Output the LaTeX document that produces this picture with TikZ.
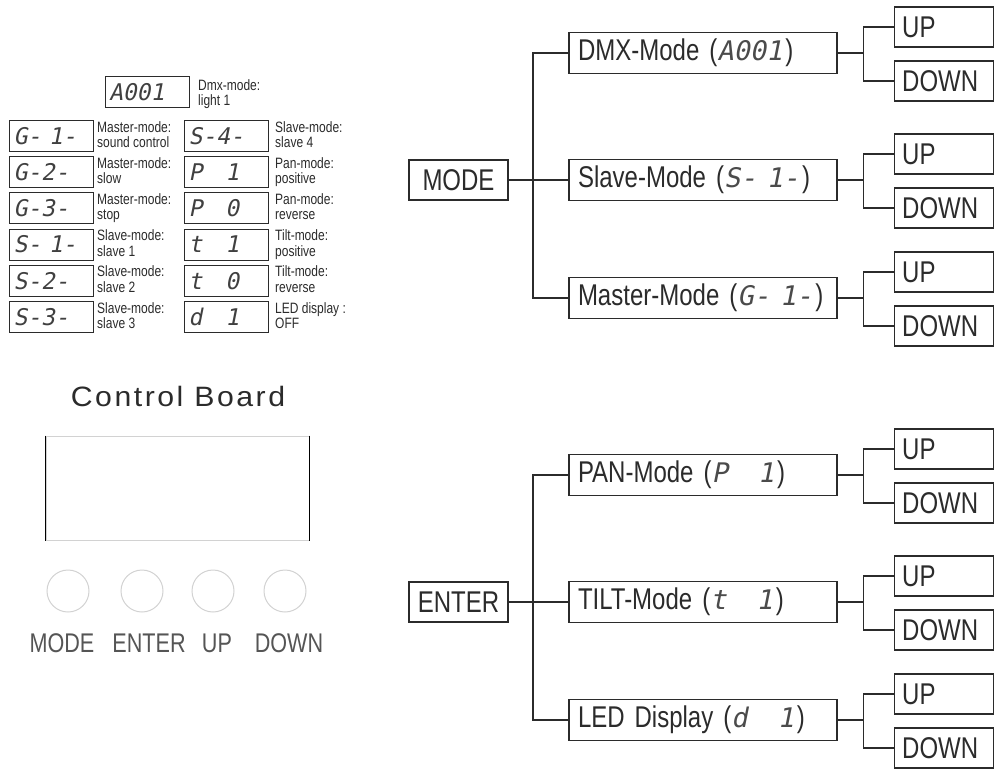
\documentclass[tikz,border=0pt]{standalone}
\usepackage{fontspec}
\setmainfont{Liberation Sans}
\newfontfamily\condfont{Liberation Sans}[FakeStretch=0.8]
\newfontfamily\segfont{DejaVu Sans Mono}[FakeSlant=0.2]
\newfontfamily\titlefont{Liberation Sans}[FakeStretch=1.08,LetterSpace=9]
\definecolor{ink}{HTML}{2B2B2B}
\definecolor{faint}{HTML}{D2D2D2}
\definecolor{btntext}{HTML}{555555}
\newcommand{\pxsize}[1]{\fontsize{#1}{#1}\selectfont}
\newcommand{\seg}[1]{{\segfont\pxsize{27}\color{ink!85}#1}\kern3pt}
\usetikzlibrary{positioning,calc}
\tikzset{
  key/.style={draw=ink,line width=1.2pt,minimum width=99pt,minimum height=40pt,
              inner sep=0pt,text=ink,font=\condfont\pxsize{30}},
  modebox/.style={key,minimum width=268pt,minimum height=41pt,text width=250pt,
                  inner xsep=9pt,align=left},
  updown/.style={key,text width=83pt,inner xsep=8pt,align=left},
  wire/.style={draw=ink,line width=1.3pt},
  lcd/.style={draw=ink,line width=1pt,minimum width=84pt,minimum height=31pt,
              inner xsep=4pt,text width=76pt,align=left,text=ink!90,font=\segfont\pxsize{23}},
  note/.style={anchor=north west,align=left,inner sep=0pt,text=ink,
               font=\condfont\fontsize{15}{15.5}\selectfont},
  knob/.style={circle,draw=faint,line width=1pt,minimum size=42pt,inner sep=0pt},
  btn/.style={text=btntext,font=\condfont\pxsize{27}}
}

\begin{document}
\begin{tikzpicture}[x=1pt,y=-1pt]
  \useasboundingbox (0,0) rectangle (1001,778);

  % display codes
  \node[lcd] (lcdA) at (147,92) {A001};
  \node[note] (noteA) at (198,79) {Dmx-mode:\\light 1};
  \foreach \code/\ta/\tb [count=\i from 0] in {%
      G- 1-/Master-mode:/sound control,
      G-2-/Master-mode:/slow,
      G-3-/Master-mode:/stop,
      S- 1-/Slave-mode:/slave 1,
      S-2-/Slave-mode:/slave 2,
      S-3-/Slave-mode:/slave 3}{
    \node[lcd] (lcdL\i) at (51.5,136+36.2*\i) {\code};
    \node[note] (noteL\i) at (97,121+36.2*\i) {\ta\\\tb};
  }
  \foreach \code/\ta/\tb [count=\i from 0] in {%
      S-4-/Slave-mode:/slave 4,
      P\ \ \ 1/Pan-mode:/positive,
      P\ \ \ 0/Pan-mode:/reverse,
      t\ \ \ 1/Tilt-mode:/positive,
      t\ \ \ 0/Tilt-mode:/reverse,
      d\ \ \ 1/LED display :/OFF}{
    \node[lcd] (lcdR\i) at (226.5,136+36.2*\i) {\code};
    \node[note] (noteR\i) at (275,121+36.2*\i) {\ta\\\tb};
  }

  % control board
  \node[text=ink,font=\titlefont\pxsize{28}] (title) at (178,396) {Control Board};
  \node[draw=faint,line width=1pt,minimum width=263pt,minimum height=104pt] (screen) at (177.5,488) {};
  \draw[black,line width=1.3pt] (screen.north west) -- (screen.south west);
  \draw[black,line width=1.3pt] (screen.north east) -- (screen.south east);
  \foreach \x/\lbl/\lx [count=\k] in {68/MODE/62,142/ENTER/149,213/UP/217,285/DOWN/289}{
    \node[knob] (knob\k) at (\x,591) {};
    \node[btn] (btn\k) at (\lx,643) {\lbl};
  }

  % MODE tree
  \node[key] (mode) at (458.5,180) {MODE};
  \node[modebox] (dmx) at (703,53) {DMX-Mode (\seg{A001})};
  \node[modebox] (slave) at (703,180) {Slave-Mode (\seg{S- 1-})};
  \node[modebox] (master) at (703,298) {Master-Mode (\seg{G- 1-})};
  \coordinate (mj) at (533,180);
  \draw[wire] (mode) -- (slave);
  \draw[wire] (dmx.west) -| (mj) |- (master.west);

  % ENTER tree
  \node[key] (enter) at (458.5,602) {ENTER};
  \node[modebox] (pan) at (703,475) {PAN-Mode (\seg{P\ \ \ 1})};
  \node[modebox] (tilt) at (703,602) {TILT-Mode (\seg{t\ \ \ 1})};
  \node[modebox] (led) at (703,720) {LED Display (\seg{d\ \ \ 1})};
  \coordinate (ej) at (533,602);
  \draw[wire] (enter) -- (tilt);
  \draw[wire] (pan.west) -| (ej) |- (led.west);

  % UP / DOWN keys
  \foreach \n in {dmx,slave,master,pan,tilt,led}{
    \node[updown,anchor=west] (\n-up) at ($(\n.east)+(56,-26)$) {UP};
    \node[updown,anchor=west] (\n-dn) at ($(\n.east)+(56,28)$) {DOWN};
    \coordinate (\n-j) at ($(\n.east)+(26,0)$);
    \draw[wire] (\n.east) -- (\n-j);
    \draw[wire] (\n-up.west) -| (\n-j) |- (\n-dn.west);
  }
\end{tikzpicture}
\end{document}
